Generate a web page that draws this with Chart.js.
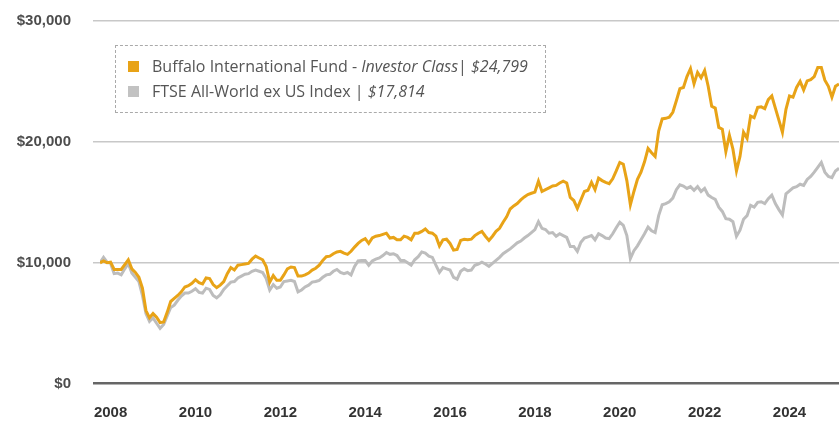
<!DOCTYPE html>
<html>
<head>
<meta charset="utf-8">
<script src="https://cdn.jsdelivr.net/npm/chart.js@4.4.1/dist/chart.umd.min.js"></script>
<style>
  body { margin: 0; background: #fff; }
  #wrap { position: relative; width: 839px; height: 422px; }
  #legend {
    position: absolute; left: 115px; top: 45px; width: 431px; height: 68px;
    border: 1px dashed #aaa; box-sizing: border-box;
    font-family: "Open Sans", sans-serif; font-size: 16px; color: #555;
  }
  .item { position: absolute; left: 12px; height: 22px; line-height: 22px; white-space: nowrap; }
  .sw { display: inline-block; width: 11px; height: 11px; margin-right: 13px; vertical-align: 0px; }
  .item i { font-style: italic; }
</style>
</head>
<body>
<div id="wrap">
  <canvas id="growthChart"></canvas>
  <div id="legend">
    <div class="item" style="top:9px"><span class="sw" style="background:#e8a317"></span>Buffalo International Fund - <i>Investor Class</i>| <i>$24,799</i></div>
    <div class="item" style="top:34px"><span class="sw" style="background:#c2c2c2"></span>FTSE All-World ex US Index | <i>$17,814</i></div>
  </div>
</div>
<script>
// month-end values, Sep 2007 .. Feb 2025
const START_YEAR = 2007 + 9 / 12;
const yearTicks = [2008, 2010, 2012, 2014, 2016, 2018, 2020, 2022, 2024];
const valueTicks = [0, 10000, 20000, 30000];

const buffaloIntl = [
  10000, 10150, 10000, 10050, 9450, 9450, 9450, 9850, 10250, 9500, 9200, 8800,
  7900, 6050, 5450, 5800, 5500, 5050, 5100, 5900, 6800, 7050, 7300, 7600,
  8000, 8100, 8300, 8600, 8350, 8250, 8750, 8700, 8200, 7950, 8150, 8450,
  9100, 9600, 9400, 9800, 9850, 9900, 9950, 10300, 10550, 10400, 10250, 9700,
  8400, 8950, 8550, 8550, 9000, 9500, 9650, 9600, 8900, 8900, 9000, 9150,
  9400, 9550, 9800, 10200, 10500, 10550, 10750, 10900, 10950, 10800, 10700, 10950,
  11300, 11600, 11850, 12000, 11600, 12050, 12200, 12250, 12350, 12450, 12050, 12100,
  11900, 11900, 12200, 12100, 11900, 12450, 12450, 12600, 12800, 12500, 12450, 12200,
  11400, 11900, 11950, 11600, 11050, 11100, 11850, 11950, 11900, 11950, 12250, 12450,
  12600, 12200, 11850, 12200, 12600, 12850, 13350, 13800, 14450, 14700, 14900, 15200,
  15450, 15650, 15750, 15850, 16750, 15900, 16050, 16200, 16350, 16400, 16600, 16750,
  16600, 15400, 15150, 14500, 15200, 15900, 16000, 16650, 16050, 17000, 16800, 16650,
  16550, 16950, 17600, 18300, 18150, 16800, 14800, 15900, 16900, 17500, 18350, 19450,
  19100, 18800, 20900, 21900, 21950, 22050, 22450, 23400, 24400, 24500, 25400, 26050,
  24800, 25750, 25300, 25900, 24600, 22950, 22800, 21200, 21050, 19200, 20550, 19400,
  17600, 18800, 20800, 20300, 22150, 22000, 22850, 22900, 22750, 23500, 23800, 22800,
  21800, 20800, 22700, 23800, 23700, 24500, 25000, 24300, 25050, 25150, 25400, 26150,
  26150, 25100, 24600, 23700, 24600, 24799
];

const ftseExUs = [
  10000, 10450, 10050, 9950, 9100, 9150, 9000, 9500, 9950, 9150, 8800, 8450,
  7300, 5800, 5150, 5450, 5000, 4580, 4900, 5600, 6300, 6500, 6900, 7250,
  7500, 7500, 7650, 7850, 7550, 7500, 7900, 7800, 7300, 7100, 7350, 7800,
  8100, 8400, 8450, 8750, 8900, 9050, 9100, 9300, 9400, 9300, 9200, 8700,
  7750, 8200, 7900, 8000, 8450, 8500, 8550, 8450, 7600, 7750, 8000, 8150,
  8400, 8450, 8550, 8800, 9000, 9050, 9300, 9450, 9200, 9100, 9200, 9000,
  9700, 10150, 10200, 10200, 9800, 10150, 10300, 10400, 10600, 10850, 10700, 10750,
  10600, 10200, 10200, 10000, 9800, 10250, 10500, 10900, 10800, 10550, 10450, 9800,
  9200, 9600, 9500, 9400, 8800, 8650, 9300, 9500, 9350, 9400, 9800, 9900,
  10050, 9900, 9700, 9950, 10200, 10450, 10750, 10950, 11150, 11400, 11650, 11800,
  12050, 12250, 12500, 12750, 13400, 12850, 12750, 12450, 12500, 12200, 12400, 12250,
  12100, 11350, 11350, 10950, 11700, 12050, 12150, 12250, 11900, 12400, 12250, 12050,
  12000, 12400, 12900, 13350, 13100, 12250, 10350, 11000, 11400, 11900, 12400, 12950,
  12650, 12500, 13900, 14800, 14900, 15050, 15350, 16050, 16450, 16350, 16150, 16300,
  16000, 16300, 15900, 16150, 15600, 15400, 15250, 14600, 14250, 13650, 13600, 13400,
  12200, 12700, 13600, 13900, 14750, 14600, 15000, 15050, 14900, 15300, 15600, 14900,
  14400, 13950, 15700, 15950, 16200, 16300, 16500, 16400, 16900, 17150, 17500, 17900,
  18300, 17500, 17150, 17050, 17600, 17814
];

const toPoints = arr => arr.map((v, i) => ({ x: START_YEAR + i / 12, y: v }));

const ctx = document.getElementById('growthChart').getContext('2d');
const growthChart = new Chart(ctx, {
  type: 'line',
  data: {
    datasets: [{
      label: 'Buffalo International Fund - Investor Class',
      data: toPoints(buffaloIntl),
      borderColor: '#e8a317',
      borderWidth: 3,
      pointRadius: 0,
      tension: 0
    }, {
      label: 'FTSE All-World ex US Index',
      data: toPoints(ftseExUs),
      borderColor: '#bdbdbd',
      borderWidth: 3,
      pointRadius: 0,
      tension: 0
    }]
  },
  options: {
    responsive: true,
    maintainAspectRatio: false,
    animation: false,
    layout: { padding: { top: 21, right: 0, left: 0, bottom: 0 } },
    plugins: {
      legend: { display: false },
      tooltip: { enabled: false }
    },
    scales: {
      x: {
        type: 'linear',
        min: START_YEAR,
        max: START_YEAR + (buffaloIntl.length - 1) / 12,
        afterBuildTicks: scale => { scale.ticks = yearTicks.map(v => ({ value: v })); },
        afterFit: scale => { scale.height = 38.3; },
        grid: { display: false, drawTicks: false },
        border: { display: false },
        ticks: {
          padding: 20,
          color: '#333',
          font: { family: 'Liberation Sans, Arial, sans-serif', size: 15, weight: 'bold' },
          callback: v => String(v)
        }
      },
      y: {
        min: 0,
        max: 30000,
        afterBuildTicks: scale => { scale.ticks = valueTicks.map(v => ({ value: v })); },
        afterFit: scale => {
          scale.width = 100;
          // tick padding is meant to be horizontal only
          scale.paddingTop = 0;
          scale.paddingBottom = 0;
        },
        border: { display: false },
        grid: {
          color: c => (c.tick && c.tick.value === 0) ? '#666' : '#c8c8c8',
          lineWidth: c => (c.tick && c.tick.value === 0) ? 2.5 : 1.5,
          tickLength: 7
        },
        ticks: {
          padding: 22,
          color: '#4d4d4d',
          font: { family: 'Liberation Sans, Arial, sans-serif', size: 15, weight: 'bold' },
          callback: v => '$' + v.toLocaleString('en-US')
        }
      }
    }
  }
});
</script>
</body>
</html>
